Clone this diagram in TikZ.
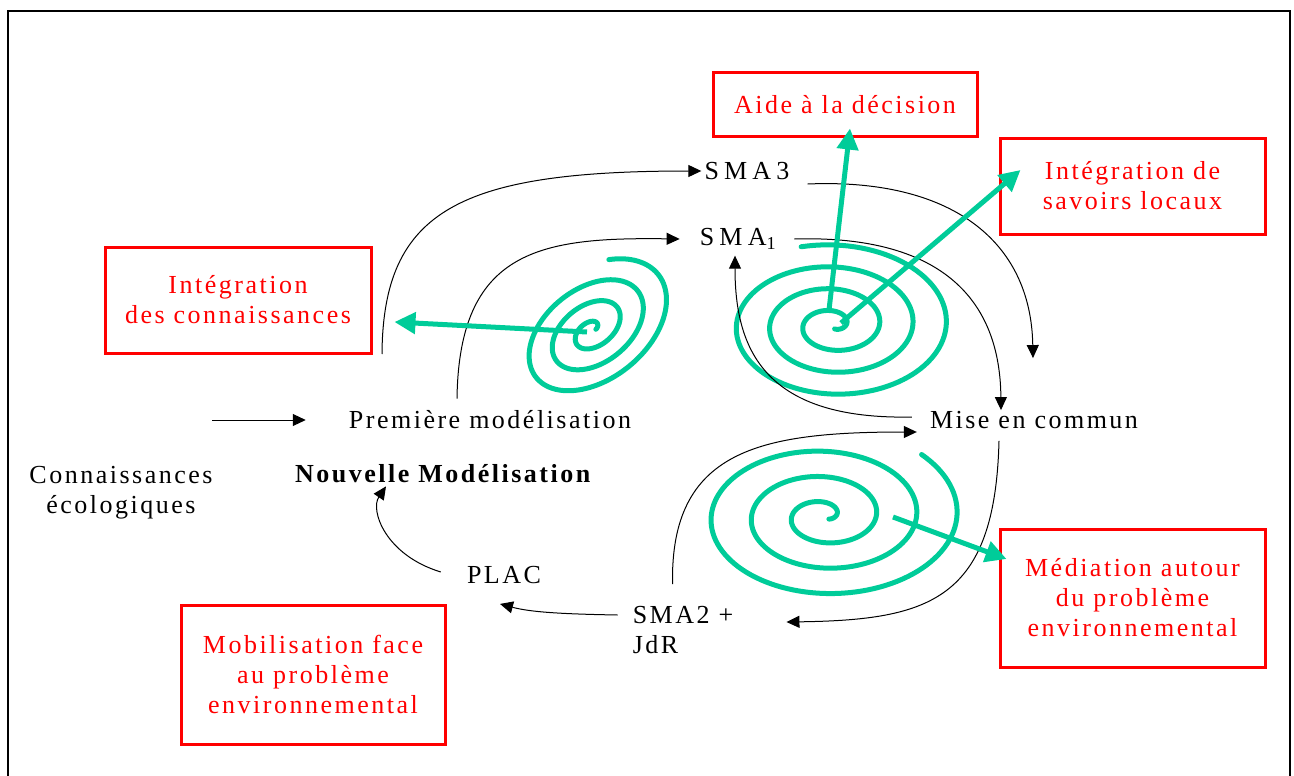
\documentclass[tikz,border=0pt]{standalone}
\usepackage{fontspec}
\setmainfont{Liberation Serif}[LetterSpace=9.6]
\usetikzlibrary{arrows.meta,positioning}
\definecolor{boxred}{HTML}{FF0000}
\definecolor{spiralgreen}{HTML}{00CC99}

\begin{document}
\begin{tikzpicture}[x=1pt,y=-1pt,
    lbl/.style={font=\fontsize{26}{30}\selectfont, align=center, inner sep=0pt},
    acro/.style={lbl, font=\fontsize{26}{30}\selectfont\addfontfeature{LetterSpace=20}},
    redbox/.style={lbl, draw=boxred, text=boxred, line width=3pt},
    flow/.style={-{Triangle[length=13pt,width=12pt]}, line width=1pt},
    spiral/.style={spiralgreen, line width=5pt, line cap=round, line join=round},
    pointer/.style={spiralgreen, line width=5pt, -{Triangle[length=21pt,width=21pt]}}]
  \useasboundingbox (0,0) rectangle (1294,776);
  % frame
  \draw[line width=2pt] (8,776) -- (8,11) -- (1290,11) -- (1290,776);

  % red boxes
  \node[redbox, minimum width=264pt, minimum height=63pt] (aide) at (845,104.5) {Aide à la décision};
  \node[redbox, minimum width=265pt, minimum height=96pt] (savoirs) at (1132.5,186) {Intégration de\\savoirs locaux};
  \node[redbox, minimum width=266pt, minimum height=106pt] (integ) at (238,300) {Intégration\\des connaissances};
  \node[redbox, minimum width=265pt, minimum height=138pt] (media) at (1132.5,598) {Médiation autour\\du problème\\environnemental};
  \node[redbox, minimum width=264pt, minimum height=139pt] (mobil) at (313,674.5) {Mobilisation face\\au problème\\environnemental};

  % labels
  \node[acro] (sma3) at (747,171) {SMA3};
  \node[acro] (sma1) at (738,239) {SMA\textsubscript{1}};
  \node[lbl] (prem) at (490,420) {Première modélisation};
  \node[lbl] (mise) at (1034,420) {Mise en commun};
  \node[lbl] (connais) at (121,493) {Connaissances\\écologiques};
  \node[lbl] (nouv) at (444,474) {\textbf{Nouvelle Modélisation}};
  \node[lbl] (plac) at (504,575) {PLAC};
  \node[lbl, align=left] (sma2) at (683,630) {SMA2 +\\JdR};

  % spirals
  \coordinate (spA) at (592,330);
  \coordinate (spB) at (833,325);
  \coordinate (spC) at (824,516);
  \draw[spiral, shift={(spA)}, rotate=38] plot[domain=0:1170, samples=400, variable=\t]
    ({90*(0.05+0.95*\t/1170)*cos(39-\t)}, {58*(0.05+0.95*\t/1170)*sin(39-\t)});
  \draw[spiral, shift={(spB)}] plot[domain=0:1260, samples=400, variable=\t]
    ({123*(0.05+0.95*\t/1260)*cos(75-\t)}, {81*(0.05+0.95*\t/1260)*sin(75-\t)});
  \draw[spiral, shift={(spC)}] plot[domain=0:1170, samples=400, variable=\t]
    ({138*(0.05+0.95*\t/1170)*cos(45-\t)}, {87*(0.05+0.95*\t/1170)*sin(45-\t)});

  % black flows
  \coordinate (ecoIn) at (212,420);
  \coordinate (leftStart) at (382,354);
  \draw[flow] (ecoIn) -- ([xshift=-43pt]prem.west);
  \draw[flow] (leftStart) .. controls (383,210) and (460,171) .. ([xshift=-3pt]sma3.west);
  \draw[flow] ([shift={(-33,-12)}]prem.north) .. controls (459,250) and (540,237) .. ([xshift=-20pt]sma1.west);
  \draw[flow] ([shift={(18,13)}]sma3.east) .. controls (950,178) and (1031,240) .. ([shift={(-1,-53)}]mise.north);
  \draw[flow] ([xshift=18pt]sma1.east) .. controls (930,235) and (1000,290) .. ([shift={(-33,-1)}]mise.north);
  \draw[flow] ([shift={(-18,-3)}]mise.west) .. controls (765,420) and (735,350) .. ([shift={(-3,6)}]sma1.south);
  \draw[flow] ([shift={(-35,12)}]mise.south) .. controls (995,600) and (930,620) .. ([shift={(53,-8)}]sma2.east);
  \draw[flow] ([shift={(40,-22)}]sma2.north west) .. controls (670,450) and (760,432) .. ([shift={(-13,12)}]mise.west);
  \draw[flow] ([shift={(-15,-15)}]sma2.west) .. controls (560,614) and (530,612) .. ([shift={(-4,20)}]plac.south);
  \draw[flow] ([shift={(-26,-3)}]plac.west) .. controls (385,555) and (370,510) .. ([shift={(-58,3)}]nouv.south);

  % green pointers
  \draw[pointer] ([shift={(-5,2)}]spA) -- ([shift={(22,22)}]integ.east);
  \draw[pointer] ([shift={(-4,-15)}]spB) -- ([shift={(5,-9)}]aide.south);
  \draw[pointer] ([shift={(8,-2)}]spB) -- ([shift={(22,-16)}]savoirs.west);
  \draw[pointer] ([shift={(69,1)}]spC) -- ([shift={(8,-39)}]media.west);
\end{tikzpicture}
\end{document}
